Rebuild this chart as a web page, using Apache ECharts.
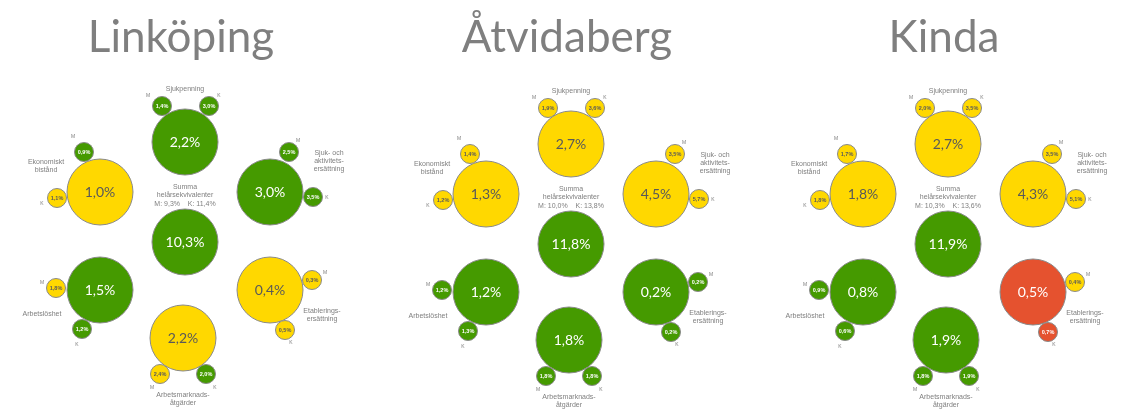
<!DOCTYPE html>
<html>
<head>
<meta charset="utf-8">
<script src="https://cdn.jsdelivr.net/npm/echarts@6/dist/echarts.min.js"></script>
<style>
  html, body { margin: 0; background: #fff; }
  #chart { width: 1127px; height: 411px; }
</style>
</head>
<body>
<div id="chart"></div>
<script>
// kommuner och kategorier
const kommuner = ["Linköping", "Åtvidaberg", "Kinda"];
const kategorier = ["Sjukpenning", "Ekonomiskt\nbistånd", "Sjuk- och\naktivitets-\nersättning",
  "Summa\nhelårsekvivalenter", "Arbetslöshet", "Etablerings-\nersättning", "Arbetsmarknads-\nåtgärder"];

// andel (%) totalt, män, kvinnor per kommun
const totalt = [
  [2.2, 1.0, 3.0, 10.3, 1.5, 0.4, 2.2],
  [2.7, 1.3, 4.5, 11.8, 1.2, 0.2, 1.8],
  [2.7, 1.8, 4.3, 11.9, 0.8, 0.5, 1.9]
];
const man = [
  [1.4, 0.9, 2.5, 9.3, 1.8, 0.3, 2.4],
  [1.9, 1.4, 3.5, 10.0, 1.2, 0.2, 1.8],
  [2.0, 1.7, 3.5, 10.3, 0.9, 0.4, 1.8]
];
const kvinnor = [
  [3.0, 1.1, 3.5, 11.4, 1.2, 0.5, 2.0],
  [3.6, 1.2, 5.7, 13.8, 1.3, 0.2, 1.8],
  [3.5, 1.8, 5.1, 13.6, 0.6, 0.7, 1.9]
];
// färgstatus: g = grön, y = gul, r = röd
const statusTotalt = [
  ["g", "y", "g", "g", "g", "y", "y"],
  ["y", "y", "y", "g", "g", "g", "g"],
  ["y", "y", "y", "g", "g", "r", "g"]
];
const statusMan = [
  ["g", "g", "g", null, "y", "y", "y"],
  ["y", "y", "y", null, "g", "g", "g"],
  ["y", "y", "y", null, "g", "y", "g"]
];
const statusKvinnor = [
  ["g", "y", "g", null, "g", "y", "g"],
  ["y", "y", "y", null, "g", "g", "g"],
  ["y", "y", "y", null, "g", "r", "g"]
];

const farg = { g: "#459a00", y: "#ffd800", r: "#e5522f" };
const textFarg = { g: "#ffffff", y: "#595959", r: "#ffffff" };

// layout (pixlar, relativt första panelen)
const panelX = [0, 386, 763];
const panelY = [0, 2, 2];
const stor = [[185, 142], [100, 192], [270, 192], [185, 242], [100, 290], [270, 290], [183, 338]];
const offM = [[-23, -36], [-16, -40], [19, -40], null, [-44, -2], [42, -10], [-23, 36]];
const offK = [[24, -36], [-43, 6], [43, 5], null, [-18, 39], [15, 40], [23, 36]];
const etikettPos = [[185, 89], [46, 166], [329, 161], [185, 191], [42, 314], [322, 315], [183, 399]];
const mPos = [[148, 96], [73, 137], [298, 141], null, [42, 283], [325, 273], [152, 388]];
const kPos = [[219, 96], [42, 204], [327, 198], null, [77, 345], [291, 343], [215, 388]];

const fmt = v => v.toFixed(1).replace(".", ",") + "%";

const storaData = [];
const smaData = [];
const graphic = [];
const gra = "#7f7f7f";

kommuner.forEach((namn, p) => {
  const ox = panelX[p], oy = panelY[p];
  graphic.push({
    type: "text", x: 181 + ox, y: 38,
    style: { text: namn, fill: gra, font: "44px Lato", align: "center", verticalAlign: "middle" }
  });
  kategorier.forEach((kat, i) => {
    const cx = stor[i][0] + ox, cy = stor[i][1] + oy;
    const s = statusTotalt[p][i];
    storaData.push({
      value: [cx, cy, totalt[p][i]],
      itemStyle: { color: farg[s] },
      label: { color: textFarg[s] }
    });
    graphic.push({
      type: "text", x: etikettPos[i][0] + ox, y: etikettPos[i][1] + oy,
      style: { text: kat, fill: gra, font: "7px 'Liberation Sans'", align: "center", verticalAlign: "middle", lineHeight: 8 }
    });
    if (offM[i]) {
      const sm = statusMan[p][i], sk = statusKvinnor[p][i];
      smaData.push({
        value: [cx + offM[i][0], cy + offM[i][1], man[p][i]],
        itemStyle: { color: farg[sm] }, label: { color: textFarg[sm] }
      });
      smaData.push({
        value: [cx + offK[i][0], cy + offK[i][1], kvinnor[p][i]],
        itemStyle: { color: farg[sk] }, label: { color: textFarg[sk] }
      });
      graphic.push({
        type: "text", x: mPos[i][0] + ox, y: mPos[i][1] + oy,
        style: { text: "M", fill: gra, font: "5px 'Liberation Sans'", align: "center", verticalAlign: "middle" }
      });
      graphic.push({
        type: "text", x: kPos[i][0] + ox, y: kPos[i][1] + oy,
        style: { text: "K", fill: gra, font: "5px 'Liberation Sans'", align: "center", verticalAlign: "middle" }
      });
    } else {
      graphic.push({
        type: "text", x: 185 + ox, y: 204 + oy,
        style: {
          text: "M: " + fmt(man[p][i]) + "    K: " + fmt(kvinnor[p][i]),
          fill: gra, font: "7px 'Liberation Sans'", align: "center", verticalAlign: "middle"
        }
      });
    }
  });
});

const myChart = echarts.init(document.getElementById("chart"));
const option = {
  backgroundColor: "#fff",
  animation: false,
  grid: { left: 0, right: 0, top: 0, bottom: 0 },
  xAxis: { type: "value", min: 0, max: 1127, show: false },
  yAxis: { type: "value", min: 0, max: 411, inverse: true, show: false },
  graphic: graphic,
  series: [
    {
      type: "scatter",
      symbolSize: 66,
      data: storaData,
      itemStyle: { borderColor: "#8a8a8a", borderWidth: 1, opacity: 1 },
      label: {
        show: true, position: "inside", fontSize: 14, fontFamily: "Lato",
        formatter: p => fmt(p.value[2])
      },
      z: 2
    },
    {
      type: "scatter",
      symbolSize: 19,
      data: smaData,
      itemStyle: { borderColor: "#8a8a8a", borderWidth: 1, opacity: 1 },
      label: {
        show: true, position: "inside", fontSize: 5.5, fontWeight: "bold", fontFamily: "Liberation Sans",
        formatter: p => fmt(p.value[2])
      },
      z: 3
    }
  ]
};
myChart.setOption(option);
</script>
</body>
</html>
